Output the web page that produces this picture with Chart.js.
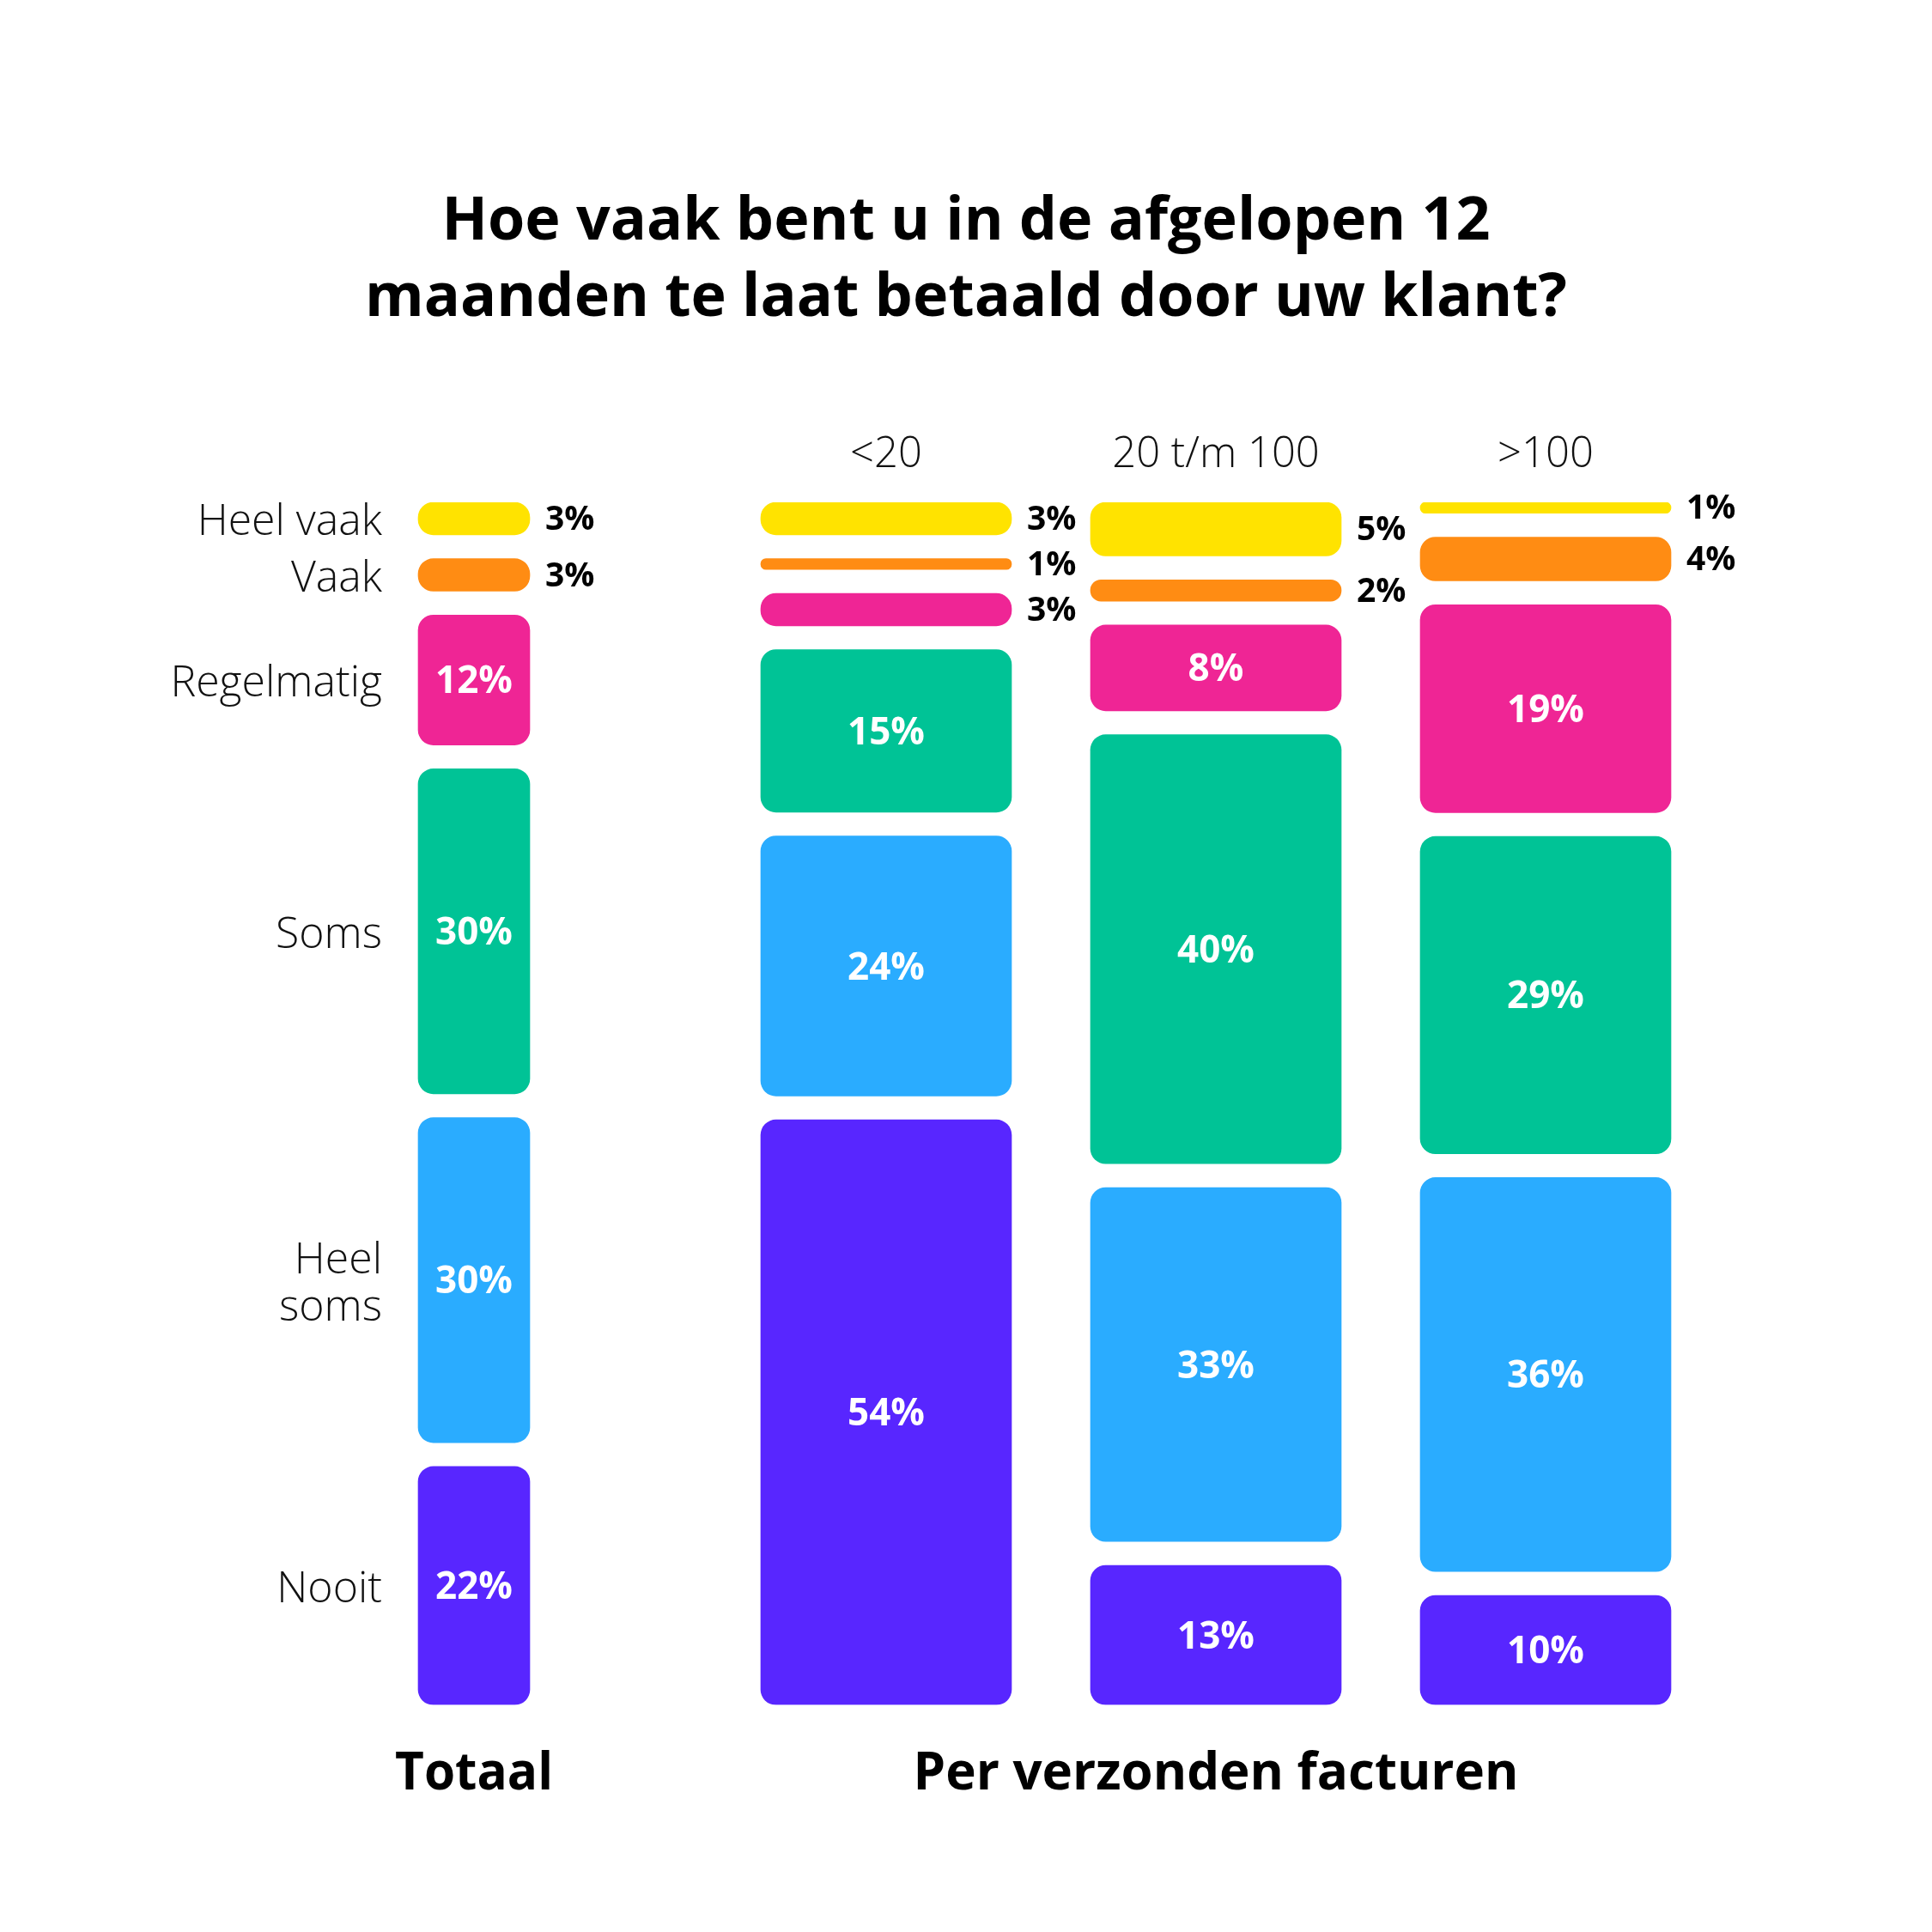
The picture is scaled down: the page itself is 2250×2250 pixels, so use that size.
<!DOCTYPE html>
<html lang="nl">
<head>
<meta charset="utf-8">
<title>Te laat betaald</title>
<script src="https://cdn.jsdelivr.net/npm/chart.js@4.4.1/dist/chart.umd.min.js"></script>
<style>
  html, body { margin: 0; padding: 0; background: #fff; }
  body { width: 2250px; height: 2250px; position: relative; overflow: hidden; font-family: "Open Sans", sans-serif; }
  h1 {
    position: absolute; left: 0; top: 208px; width: 2250px; margin: 0;
    text-align: center; font-size: 70px; line-height: 89px; font-weight: 700; color: #000;
  }
  #totaalChart { position: absolute; left: 0; top: 420px; }
  #groepChart { position: absolute; left: 640px; top: 420px; }
</style>
</head>
<body>
<h1>Hoe vaak bent u in de afgelopen 12<br>maanden te laat betaald door uw klant?</h1>
<canvas id="totaalChart" width="1104" height="1760"></canvas>
<canvas id="groepChart" width="1552" height="1760"></canvas>
<script>
const answers = ["Heel vaak", "Vaak", "Regelmatig", "Soms", "Heel soms", "Nooit"];
const answerLabels = ["Heel vaak", "Vaak", "Regelmatig", "Soms", ["Heel", "soms"], "Nooit"];
const groups = ["<20", "20 t/m 100", ">100"];

const totaal = [3, 3, 12, 30, 30, 22];
const lt20 = [3, 1, 3, 15, 24, 54];
const from20to100 = [5, 2, 8, 40, 33, 13];
const gt100 = [1, 4, 19, 29, 36, 10];

const colors = ["#ffe300", "#ff8c13", "#ef2595", "#00c396", "#2aacff", "#5826ff"];
const FONT = "'Open Sans', sans-serif";
const GAP = 2.2; // white space between segments, in percentage points
const spanMax = 100 + GAP * (answers.length - 1);

// each column is scaled to fill 100%, segments separated by GAP
const toSegments = (values) => {
  const sum = values.reduce((a, b) => a + b, 0);
  let start = 0;
  return values.map((v) => {
    const h = (v / sum) * 100;
    const seg = [start, start + h];
    start += h + GAP;
    return seg;
  });
};

const valueLabels = {
  id: "valueLabels",
  afterDatasetsDraw(chart) {
    const ctx = chart.ctx;
    chart.data.datasets.forEach((ds, i) => {
      chart.getDatasetMeta(i).data.forEach((bar, j) => {
        const { x, y, base, width } = bar.getProps(["x", "y", "base", "width"], true);
        const h = Math.abs(base - y);
        const cy = (y + base) / 2;
        ctx.save();
        ctx.textBaseline = "middle";
        if (h > 80) {
          ctx.fillStyle = "#fff";
          ctx.font = "bold 44px " + FONT;
          ctx.textAlign = "center";
          ctx.fillText(ds.values[j] + "%", x, cy + 3);
        } else {
          ctx.fillStyle = "#000";
          ctx.font = "bold 39px " + FONT;
          ctx.textAlign = "left";
          ctx.fillText(ds.values[j] + "%", x + width / 2 + 18, cy + 2);
        }
        ctx.restore();
      });
    });
  },
};

const yScale = (extra) =>
  Object.assign(
    {
      min: 0,
      max: spanMax,
      reverse: true,
      grid: { display: false, drawTicks: false },
      border: { display: false },
    },
    extra
  );

const bottomTitle = (text) => ({
  display: true,
  text: text,
  position: "bottom",
  fullSize: false,
  color: "#000",
  font: { family: FONT, size: 60, weight: "bold", lineHeight: 1.2 },
  padding: { top: 46, bottom: 0 },
});

document.addEventListener("DOMContentLoaded", () => {
  Chart.defaults.font.family = FONT;

  const totSegs = toSegments(totaal);
  new Chart(document.getElementById("totaalChart"), {
    type: "bar",
    data: {
      labels: ["Totaal"],
      datasets: answers.map((a, i) => ({
        label: a,
        data: [totSegs[i]],
        values: [totaal[i]],
        backgroundColor: colors[i],
        borderRadius: 18,
        borderSkipped: false,
        barThickness: 130,
        grouped: false,
      })),
    },
    options: {
      responsive: false,
      animation: false,
      devicePixelRatio: 1,
      layout: { padding: { top: 165, right: 460, bottom: 76.6, left: 200 } },
      plugins: { legend: { display: false }, tooltip: { enabled: false }, title: bottomTitle("Totaal") },
      scales: {
        x: { display: false },
        y: yScale({
          afterBuildTicks: (scale) => {
            scale.ticks = totSegs.map((s) => ({ value: (s[0] + s[1]) / 2 }));
          },
          afterFit: (scale) => {
            scale.width = 260;
          },
          ticks: {
            autoSkip: false,
            padding: 15,
            labelOffset: 5,
            color: "#111",
            font: { size: 50, weight: "300", lineHeight: 1.1 },
            callback: (value, index) => answerLabels[index],
          },
        }),
      },
    },
    plugins: [valueLabels],
  });

  const columns = [lt20, from20to100, gt100].map(toSegments);
  const columnValues = [lt20, from20to100, gt100];
  new Chart(document.getElementById("groepChart"), {
    type: "bar",
    data: {
      labels: groups,
      datasets: answers.map((a, i) => ({
        label: a,
        data: columns.map((col) => col[i]),
        values: columnValues.map((col) => col[i]),
        backgroundColor: colors[i],
        borderRadius: 18,
        borderSkipped: false,
        barThickness: 292,
        grouped: false,
      })),
    },
    options: {
      responsive: false,
      animation: false,
      devicePixelRatio: 1,
      layout: { padding: { top: 0, right: 200, bottom: 76.6, left: 200 } },
      plugins: { legend: { display: false }, tooltip: { enabled: false }, title: bottomTitle("Per verzonden facturen") },
      scales: {
        x: {
          position: "top",
          grid: { display: false, drawTicks: false },
          border: { display: false },
          afterFit: (scale) => {
            scale.height = 165;
          },
          ticks: {
            padding: 26,
            color: "#111",
            font: { size: 49, weight: "300", lineHeight: 1.2 },
          },
        },
        y: yScale({ display: false }),
      },
    },
    plugins: [valueLabels],
  });
});
</script>
</body>
</html>
